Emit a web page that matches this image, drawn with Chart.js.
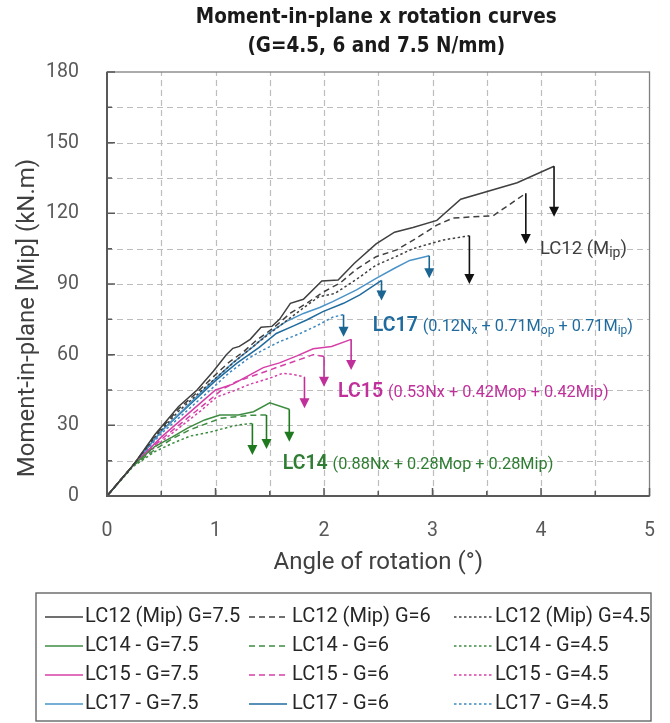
<!DOCTYPE html>
<html>
<head>
<meta charset="utf-8">
<script src="https://cdn.jsdelivr.net/npm/chart.js@4.4.1/dist/chart.umd.min.js"></script>
<style>
  html, body { margin: 0; padding: 0; background: #fff; }
  #wrap { width: 670px; height: 723px; }
</style>
</head>
<body>
<div id="wrap"><canvas id="myViz" width="670" height="723"></canvas></div>
<script>
// series: [angle (deg), moment (kN.m)]
const lc12G75 = [[0,0],[0.24,13],[0.44,26],[0.66,38],[0.83,45],[0.98,53],[1.10,60],[1.16,62.7],[1.22,63.5],[1.32,66.5],[1.42,71.6],[1.52,72],[1.59,75],[1.69,81.8],[1.81,83.5],[1.98,91.3],[2.13,91.7],[2.28,98.8],[2.48,107],[2.65,112],[2.82,114],[3.04,117],[3.26,126],[3.78,133],[4.12,140]];
const lc12G6 = [[0,0],[0.24,13],[0.44,25.5],[0.66,37],[0.83,44],[1.0,51.5],[1.13,57],[1.26,61.3],[1.38,66.2],[1.53,71.2],[1.69,77.6],[1.84,81.8],[1.99,86.5],[2.15,90.5],[2.30,96.3],[2.48,101.6],[2.67,104.5],[2.85,109.4],[3.04,115],[3.19,118],[3.56,119],[3.86,128.5]];
const lc12G45 = [[0,0],[0.24,13],[0.44,25],[0.66,36],[0.83,43],[1.0,50],[1.2,58],[1.4,65.5],[1.6,72.5],[1.8,79.5],[1.95,84.5],[2.1,86],[2.3,92],[2.48,98],[2.68,102],[2.82,105],[2.94,106.6],[3.10,108.7],[3.34,110.5]];
const lc14G75 = [[0,0],[0.24,13],[0.44,21],[0.60,25],[0.75,29],[0.90,32.3],[1.04,34.4],[1.21,34.4],[1.35,35.8],[1.50,39.6],[1.68,36.8]];
const lc14G6 = [[0,0],[0.24,12.8],[0.45,20],[0.61,24.5],[0.76,28],[0.92,30.8],[1.05,33],[1.20,33.7],[1.33,34.3],[1.47,34.4]];
const lc14G45 = [[0,0],[0.24,12.5],[0.44,18.8],[0.60,22.3],[0.77,25.5],[0.94,27],[1.06,28.5],[1.21,30.2],[1.34,30.8]];
const lc15G75 = [[0,0],[0.24,13],[0.5,25],[0.86,39.4],[1.0,45],[1.16,47.5],[1.3,51],[1.44,54.5],[1.59,56.5],[1.75,59.5],[1.90,62.5],[2.07,63.5],[2.25,66.5]];
const lc15G6 = [[0,0],[0.24,13],[0.5,24],[0.86,37.5],[1.07,45.5],[1.19,48.5],[1.41,52],[1.59,55],[1.78,58],[1.90,60],[2.0,59.2]];
const lc15G45 = [[0,0],[0.24,12.8],[0.5,23],[0.86,36],[1.01,42],[1.16,44.5],[1.32,47.5],[1.50,50],[1.62,52.1],[1.73,51.5],[1.82,50.5]];
const lc17G75 = [[0,0],[0.24,13],[0.5,27.5],[0.98,49],[1.16,56.5],[1.35,63.5],[1.5,69.5],[1.65,74],[1.81,77.5],[1.96,80],[2.08,82.5],[2.30,87.5],[2.48,92.4],[2.65,96.7],[2.79,100],[2.97,102]];
const lc17G6 = [[0,0],[0.24,13],[0.5,27.5],[1.0,49],[1.2,56.5],[1.4,63],[1.56,69],[1.72,72.2],[1.84,74.7],[1.99,78.3],[2.18,81.8],[2.33,85.4],[2.53,91.5]];
const lc17G45 = [[0,0],[0.24,13],[0.5,26.5],[1.0,47],[1.13,52.5],[1.29,58],[1.44,62],[1.59,65.5],[1.78,69],[1.93,72.2],[2.08,75.9],[2.18,77]];

// failure arrows: each curve ends at its last point, arrow drops to this moment
const arrowTo = [118.5, 107, 90, 23, 20, 17.4, 53.5, 46.4, 37.2, 92.4, 83, 67.6];

const seriesLabels = [
  'LC12 (Mip) G=7.5', 'LC12 (Mip) G=6', 'LC12 (Mip) G=4.5',
  'LC14 - G=7.5', 'LC14 - G=6', 'LC14 - G=4.5',
  'LC15 - G=7.5', 'LC15 - G=6', 'LC15 - G=4.5',
  'LC17 - G=7.5', 'LC17 - G=6', 'LC17 - G=4.5'
];
const series = [lc12G75, lc12G6, lc12G45, lc14G75, lc14G6, lc14G45, lc15G75, lc15G6, lc15G45, lc17G75, lc17G6, lc17G45];

const xTicks = [0, 1, 2, 3, 4, 5];
const yTicks = [0, 30, 60, 90, 120, 150, 180];

// styles
const FONT = 'Roboto, "Noto Sans", sans-serif';
const DASH = [6, 4];
const DOT = [2.5, 2.5];
const lineColors = ['#404040', '#404040', '#404040', '#3d8c40', '#3d8c40', '#3d8c40',
  '#d63fa8', '#d63fa8', '#d63fa8', '#4a93c9', '#1f6b9e', '#3d89c0'];
const lineDash = [[], DASH, DOT, [], DASH, DOT, [], DASH, DOT, [], [], DOT];
const arrowColors = ['#111', '#111', '#111', '#1f7a1f', '#1f7a1f', '#1f7a1f',
  '#c0309a', '#c0309a', '#c0309a', '#1b6593', '#1b6593', '#1b6593'];

const annotations = [
  { x: 3.99, y: 102.8, color: '#404040', parts: [
    { t: 'LC12 (M', s: 18.5 }, { t: 'ip', s: 14, sub: true }, { t: ')', s: 18.5 }] },
  { x: 2.45, y: 70, color: '#1f6b9e', parts: [
    { t: 'LC17 ', s: 19.5, w: 600 }, { t: '(0.12N', s: 16.3 }, { t: 'x', s: 12, sub: true },
    { t: ' + 0.71M', s: 16.3 }, { t: 'op', s: 12, sub: true },
    { t: ' + 0.71M', s: 16.3 }, { t: 'ip', s: 12, sub: true }, { t: ')', s: 16.3 }] },
  { x: 2.13, y: 42, color: '#c0309a', parts: [
    { t: 'LC15 ', s: 19.5, w: 600 }, { t: '(0.53Nx + 0.42Mop + 0.42Mip)', s: 16.3 }] },
  { x: 1.62, y: 11.5, color: '#2e7d32', parts: [
    { t: 'LC14 ', s: 19.5, w: 600 }, { t: '(0.88Nx + 0.28Mop + 0.28Mip)', s: 16.3 }] }
];

const drawRich = (ctx, x, y, parts, color) => {
  ctx.fillStyle = color;
  ctx.textAlign = 'left';
  ctx.textBaseline = 'alphabetic';
  let cx = x;
  parts.forEach(p => {
    ctx.font = `${p.w || 400} ${p.s}px ${FONT}`;
    ctx.fillText(p.t, cx, y + (p.sub ? 3 : 0));
    cx += ctx.measureText(p.t).width;
  });
};

const extrasPlugin = {
  id: 'extras',
  beforeDatasetsDraw(chart) {
    // dashed grid every 0.5 deg / 15 kN.m
    const { ctx, chartArea: a, scales: { x, y } } = chart;
    ctx.save();
    ctx.strokeStyle = '#bdbdbd';
    ctx.lineWidth = 1.2;
    ctx.setLineDash([6, 4]);
    ctx.beginPath();
    for (let v = 0.5; v < 5; v += 0.5) {
      const px = Math.round(x.getPixelForValue(v)) + 0.5;
      ctx.moveTo(px, a.bottom); ctx.lineTo(px, a.top);
    }
    for (let v = 15; v < 180; v += 15) {
      const py = Math.round(y.getPixelForValue(v)) + 0.5;
      ctx.moveTo(a.left, py); ctx.lineTo(a.right, py);
    }
    ctx.stroke();
    ctx.restore();
  },
  afterDatasetsDraw(chart) {
    const { ctx, chartArea: a, scales: { x, y } } = chart;
    ctx.save();

    // plot frame
    ctx.strokeStyle = '#7f7f7f';
    ctx.lineWidth = 1.3;
    ctx.strokeRect(a.left, a.top, a.right - a.left, a.bottom - a.top);
    ctx.strokeStyle = '#595959';
    ctx.lineWidth = 2;
    ctx.beginPath();
    ctx.moveTo(a.left, a.top);
    ctx.lineTo(a.left, a.bottom);
    ctx.lineTo(a.right, a.bottom);
    ctx.stroke();

    // inner tick marks
    ctx.lineWidth = 1.5;
    ctx.beginPath();
    y.ticks.forEach(t => {
      const py = y.getPixelForValue(t.value);
      const len = t.value % 30 === 0 ? 8 : 5;
      ctx.moveTo(a.left, py); ctx.lineTo(a.left + len, py);
    });
    x.ticks.forEach(t => {
      const px = x.getPixelForValue(t.value);
      const len = Number.isInteger(t.value) ? 8 : 5;
      ctx.moveTo(px, a.bottom); ctx.lineTo(px, a.bottom - len);
    });
    ctx.stroke();

    // failure arrows
    chart.data.datasets.forEach((ds, i) => {
      const last = ds.data[ds.data.length - 1];
      const px = x.getPixelForValue(last.x);
      const y0 = y.getPixelForValue(last.y);
      const y1 = y.getPixelForValue(arrowTo[i]);
      ctx.strokeStyle = arrowColors[i];
      ctx.fillStyle = arrowColors[i];
      ctx.lineWidth = 1.6;
      ctx.setLineDash([]);
      ctx.beginPath();
      ctx.moveTo(px, y0);
      ctx.lineTo(px, y1 - 8);
      ctx.stroke();
      ctx.beginPath();
      ctx.moveTo(px - 5, y1 - 10);
      ctx.lineTo(px + 5, y1 - 10);
      ctx.lineTo(px, y1);
      ctx.closePath();
      ctx.fill();
    });

    // curve labels
    annotations.forEach(an => {
      drawRich(ctx, x.getPixelForValue(an.x), y.getPixelForValue(an.y), an.parts, an.color);
    });

    // titles
    const midX = (a.left + a.right) / 2;
    ctx.fillStyle = '#1a1a1a';
    ctx.textAlign = 'center';
    ctx.textBaseline = 'middle';
    ctx.font = `bold 20.5px "Liberation Sans Narrow", "DejaVu Sans Condensed", ${FONT}`;
    ctx.fillText('Moment-in-plane x rotation curves', midX - 2, 18);
    ctx.fillText('(G=4.5, 6 and 7.5 N/mm)', midX - 2, 47);

    ctx.fillStyle = '#404040';
    ctx.font = `24px ${FONT}`;
    ctx.fillText('Angle of rotation (°)', midX, 563);
    ctx.save();
    ctx.translate(28, 318);
    ctx.rotate(-Math.PI / 2);
    ctx.fillText('Moment-in-plane [Mip] (kN.m)', 0, 0);
    ctx.restore();

    // legend
    const box = { l: 36, t: 593, r: 651, b: 721 };
    ctx.strokeStyle = '#595959';
    ctx.lineWidth = 1.3;
    ctx.strokeRect(box.l, box.t, box.r - box.l, box.b - box.t);
    const colLine = [45, 249, 454];
    const colText = [85, 292, 495];
    ctx.font = `20px ${FONT}`;
    ctx.textAlign = 'left';
    ctx.textBaseline = 'middle';
    chart.data.datasets.forEach((ds, i) => {
      const r = Math.floor(i / 3), c = i % 3;
      const ly = 617 + r * 29;
      ctx.strokeStyle = ds.borderColor;
      ctx.lineWidth = 1.6;
      ctx.setLineDash(ds.borderDash);
      ctx.beginPath();
      ctx.moveTo(colLine[c], ly);
      ctx.lineTo(colLine[c] + 38, ly);
      ctx.stroke();
      ctx.setLineDash([]);
      ctx.fillStyle = '#262626';
      ctx.fillText(ds.label, colText[c], ly);
    });
    ctx.restore();
  }
};

const ctx = document.getElementById('myViz').getContext('2d');
new Chart(ctx, {
  type: 'line',
  data: {
    datasets: series.map((s, i) => ({
      label: seriesLabels[i],
      data: s.map(p => ({ x: p[0], y: p[1] })),
      borderColor: lineColors[i],
      borderDash: lineDash[i],
      borderWidth: 1.5,
      pointRadius: 0,
      fill: false,
      tension: 0
    }))
  },
  options: {
    responsive: false,
    animation: false,
    layout: { padding: { left: 47, right: 20, top: 72, bottom: 187 } },
    plugins: { legend: { display: false }, tooltip: { enabled: false } },
    scales: {
      x: {
        type: 'linear', min: 0, max: 5,
        ticks: {
          stepSize: 0.5, autoSkip: false, padding: 15, color: '#595959',
          font: { family: FONT, size: 19.5 },
          callback: v => xTicks.includes(v) ? v : ''
        },
        grid: { display: false },
        border: { display: false },
        afterFit: s => { s.height = 40; }
      },
      y: {
        type: 'linear', min: 0, max: 180,
        ticks: {
          stepSize: 15, autoSkip: false, padding: 20, color: '#595959',
          font: { family: FONT, size: 19.5 },
          callback: v => yTicks.includes(v) ? v : ''
        },
        grid: { display: false },
        border: { display: false },
        afterFit: s => { s.width = 60; }
      }
    }
  },
  plugins: [extrasPlugin]
});
</script>
</body>
</html>
